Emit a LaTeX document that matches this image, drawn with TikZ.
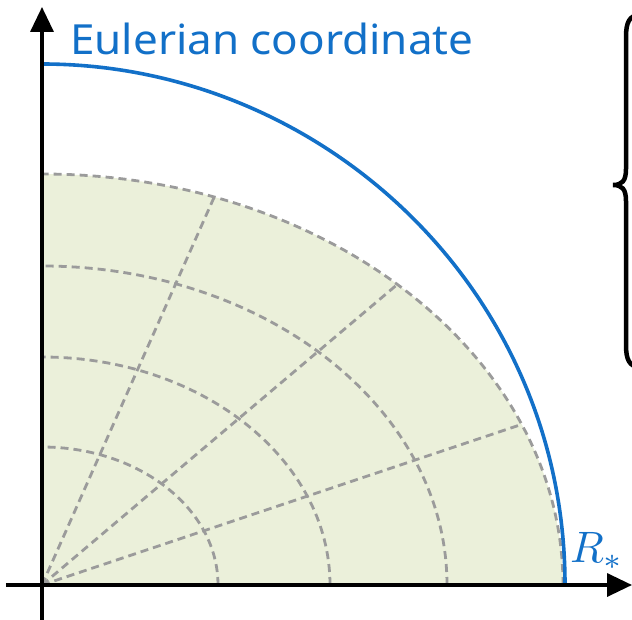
\documentclass[tikz,border=0pt]{standalone}
\usepackage{fontspec}
\usetikzlibrary{arrows.meta}
\newfontfamily\labelfont{Noto Sans}
\definecolor{eblue}{RGB}{18,112,200}
\definecolor{paleGreen}{RGB}{235,240,218}
\definecolor{gridGray}{RGB}{155,155,155}
\tikzset{
  axisline/.style={line width=3.5pt, -{Triangle[length=25pt,width=23pt]}},
  gridline/.style={gridGray, line width=2.8pt, dash pattern=on 8pt off 5pt},
  bluecurve/.style={eblue, line width=3.6pt},
  bracestyle/.style={line width=4.5pt, line cap=round}
}
\begin{document}
\begin{tikzpicture}[x=1pt,y=1pt]
\useasboundingbox (-42,-34) rectangle (590,585);
\clip (-42,-34) rectangle (590,585);
% green region
\fill[paleGreen] (0,0) -- (521,0) arc[start angle=0, end angle=90, x radius=521, y radius=411] -- cycle;
% dashed elliptic arcs
\draw[gridline] (176,0) arc[start angle=0, end angle=90, x radius=176, y radius=138];
\draw[gridline] (288,0) arc[start angle=0, end angle=90, x radius=288, y radius=228];
\draw[gridline] (405,0) arc[start angle=0, end angle=90, x radius=405, y radius=319];
\draw[gridline] (521,0) arc[start angle=0, end angle=90, x radius=521, y radius=411];
% radial dashed lines
\coordinate (O) at (0,0);
\coordinate (r1) at ({521*cos(23)},{411*sin(23)});
\coordinate (r2) at ({521*cos(47)},{411*sin(47)});
\coordinate (r3) at ({521*cos(70.7)},{411*sin(70.7)});
\draw[gridline] (O) -- (r1);
\draw[gridline] (O) -- (r2);
\draw[gridline] (O) -- (r3);
% blue curve
\coordinate (b0) at (0,521);
\coordinate (b1) at (523,0);
\draw[bluecurve] (b0) .. controls (280,521) and (523,295) .. (b1);
% axes
\coordinate (xs) at (-36,0);
\coordinate (xe) at (590,0);
\coordinate (ys) at (0,-40);
\coordinate (ye) at (0,578);
\draw[axisline] (xs) -- (xe);
\draw[axisline] (ys) -- (ye);
% labels
\node[anchor=base west, inner sep=0pt, text=eblue, font=\labelfont\fontsize{41.5}{48}\selectfont] (title) at (28,530) {\scalebox{1.06}[1]{Eulerian coordinate}};
\node[anchor=base west, inner sep=0pt, text=eblue] (rstar) at (528,22) {\scalebox{4.4}{$R_{*}$}};
% brace
\draw[bracestyle] (598,570) .. controls (587,570) and (584,562) .. (584,548) -- (584,416)
  .. controls (584,404) and (580,400) .. (571,400)
  .. controls (580,400) and (584,396) .. (584,384) -- (584,240)
  .. controls (584,226) and (587,218) .. (598,218);
\end{tikzpicture}
\end{document}
